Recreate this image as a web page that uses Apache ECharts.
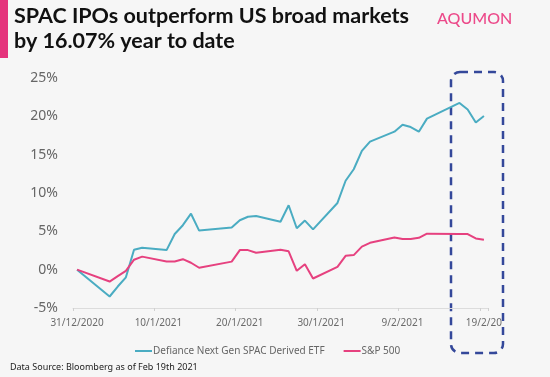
<!DOCTYPE html>
<html>
<head>
<meta charset="utf-8">
<script src="https://cdn.jsdelivr.net/npm/echarts@6/dist/echarts.min.js"></script>
<style>
html,body{margin:0;padding:0;background:#f6f6f6;}
#c{width:550px;height:377px;}
</style>
</head>
<body>
<div id="c"></div>
<script>
// Day offsets from 31/12/2020 (trading days)
const days = [0,4,5,6,7,8,11,12,13,14,15,19,20,21,22,25,26,27,28,29,32,33,34,35,36,39,40,41,42,43,47,48,49,50];
// Defiance Next Gen SPAC Derived ETF, YTD %
const spac = [0,-3.5,-2.2,-1.0,2.6,2.85,2.55,4.65,5.8,7.3,5.1,5.5,6.45,6.9,7.0,6.25,8.4,5.4,6.4,5.25,8.7,11.6,13.1,15.5,16.7,18.0,18.9,18.6,18.0,19.7,21.75,20.9,19.2,20.05];
// S&P 500, YTD %
const spx = [0,-1.55,-0.85,-0.15,1.3,1.7,1.07,1.07,1.37,0.9,0.25,1.05,2.55,2.55,2.2,2.6,2.4,-0.15,0.7,-1.15,0.37,1.8,1.9,3.0,3.5,4.2,4.0,4.0,4.15,4.7,4.65,4.65,4.07,3.9];
const xTickDays = [0,10,20,30,40,50];
const xTickLabels = ['31/12/2020','10/1/2021','20/1/2021','30/1/2021','9/2/2021','19/2/20'];
const seriesNames = ['Defiance Next Gen SPAC Derived ETF','S&P 500'];
const yTicks = [-5,0,5,10,15,20,25];

const TEAL = '#4aacc2', PINK = '#e6417f';
// points are plotted at the middle of each day
const toPts = vals => days.map((d,i)=>[d+0.5, vals[i]]);

const chart = echarts.init(document.getElementById('c'));
chart.setOption({
  backgroundColor:'#f6f6f6',
  animation:false,
  grid:{left:73, top:78, width:415, height:230},
  xAxis:[{
    type:'value', min:0, max:51, interval:10,
    axisLine:{show:false}, axisTick:{show:false}, splitLine:{show:false},
    axisLabel:{
      margin:10, color:'#6b6b6b', fontFamily:'Noto Sans', fontSize:10, padding:[0,0,0,8],
      formatter: v => { const i = xTickDays.indexOf(v); return i>=0 ? xTickLabels[i] : ''; },
      showMaxLabel:false
    }
  },{
    type:'value', min:0, max:51, interval:10, position:'bottom',
    axisLine:{show:true, onZero:true, lineStyle:{color:'#dcdcdc', width:1}},
    axisTick:{show:true, length:3, lineStyle:{color:'#d0d0d0'}},
    axisLabel:{show:false}, splitLine:{show:false}
  }],
  yAxis:{
    type:'value', min:yTicks[0], max:yTicks[yTicks.length-1], interval:5,
    axisLine:{show:false}, axisTick:{show:false}, splitLine:{show:false},
    axisLabel:{margin:15, color:'#666', fontFamily:'Noto Sans', fontSize:14, formatter:'{value}%'}
  },
  legend:{
    left:130, top:341, itemWidth:17, itemHeight:2, itemGap:19,
    icon:'rect',
    textStyle:{color:'#666', fontFamily:'Noto Sans', fontSize:10, padding:[0,0,0,-4]},
    data:seriesNames
  },
  series:[
    {name:seriesNames[0], type:'line', data:toPts(spac), showSymbol:false, symbol:'none',
     lineStyle:{color:TEAL, width:2}, itemStyle:{color:TEAL}},
    {name:seriesNames[1], type:'line', data:toPts(spx), showSymbol:false, symbol:'none',
     lineStyle:{color:PINK, width:2}, itemStyle:{color:PINK}}
  ],
  graphic:[
    {type:'rect', left:0, top:0, shape:{width:8, height:58}, style:{fill:'#e5337c'}},
    {type:'text', left:14, top:4, style:{text:'SPAC IPOs outperform US broad markets\nby 16.07% year to date',
      font:'bold 21.5px Lato', fill:'#111', lineHeight:25}},
    {type:'text', left:437, top:11, style:{text:'AQUMON', font:'500 16px Lato', fill:'#ec4a8a'}},
    {type:'text', left:10, top:363, style:{text:'Data Source: Bloomberg as of Feb 19th 2021', font:'9px "Noto Sans"', fill:'#222'}},
    {type:'rect', shape:{x:451, y:72, width:52, height:281, r:9},
      style:{fill:'none', stroke:'#34489a', lineWidth:2.5, lineDash:[8,6]}}
  ]
});
</script>
</body>
</html>
